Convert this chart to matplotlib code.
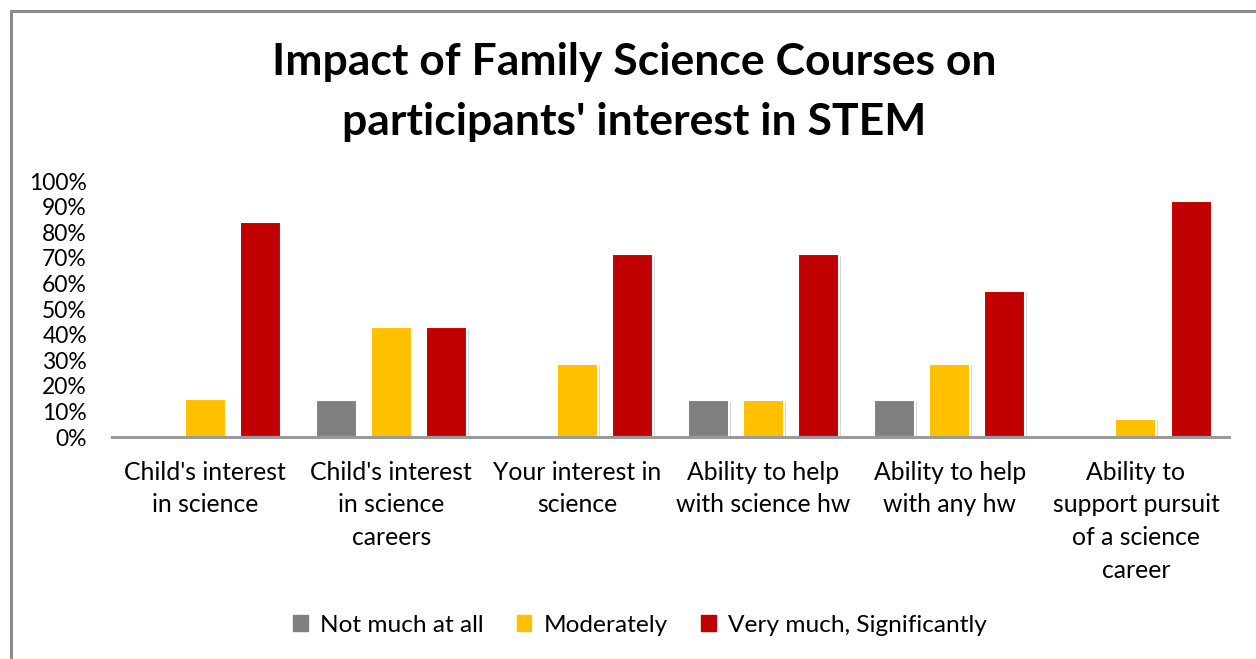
import matplotlib
matplotlib.use("Agg")
import matplotlib.pyplot as plt
import matplotlib.patheffects as pe
from matplotlib.lines import Line2D
import numpy as np

categories = ["Child's interest\nin science",
              "Child's interest\nin science\ncareers",
              "Your interest in\nscience",
              "Ability to help\nwith science hw",
              "Ability to help\nwith any hw",
              "Ability to\nsupport pursuit\nof a science\ncareer"]
series_names = ["Not much at all", "Moderately", "Very much, Significantly"]
not_much = [0.0, 14.3, 0.0, 14.3, 14.3, 0.0]
moderately = [15.0, 42.9, 28.6, 14.3, 28.6, 7.1]
very_much = [84.0, 42.9, 71.4, 71.4, 57.1, 92.0]
yticks = [0, 10, 20, 30, 40, 50, 60, 70, 80, 90, 100]
title_lines = ["Impact of Family Science Courses on", "participants' interest in STEM"]

colors = ["#808080", "#FFC000", "#C00000"]
FONT = "Lato"

fig = plt.figure(figsize=(12.56, 6.59), dpi=100)
fig.patch.set_facecolor("white")

# chart border (left and top visible)
fig.add_artist(Line2D([0.0087, 0.0087], [0, 1 - 10.5 / 659], transform=fig.transFigure,
                      color="#8c8c8c", lw=2.2))
fig.add_artist(Line2D([0.0087, 1.0], [1 - 10.5 / 659, 1 - 10.5 / 659], transform=fig.transFigure,
                      color="#8c8c8c", lw=2.2))

ax = fig.add_axes([112 / 1256, 1 - 437 / 659, (1229 - 112) / 1256, (437 - 181) / 659])
x = np.arange(len(categories))
w = 0.22
off = 0.296
shadow = [pe.SimplePatchShadow(offset=(1.2, -1.2), shadow_rgbFace="#bbbbbb", alpha=0.6), pe.Normal()]
for i, (vals, c) in enumerate(zip([not_much, moderately, very_much], colors)):
    bars = ax.bar(x + (i - 1) * off, vals, width=w, color=c, edgecolor="white",
                  linewidth=1.5, label=series_names[i], zorder=3)
    for b, v in zip(bars, vals):
        if v > 0:
            b.set_path_effects(shadow)
        else:
            b.set_visible(False)

ax.set_xlim(-0.5, len(categories) - 0.5)
ax.set_ylim(0, 100)
ax.set_yticks(yticks)
ax.set_yticklabels([f"{t}%" for t in yticks], fontsize=16.5, family=FONT, color="black")
ax.set_xticks(x)
ax.set_xticklabels(categories, fontsize=17.8, family=FONT, color="black", linespacing=1.52,
                   va="top")
ax.tick_params(axis="both", length=0)
ax.tick_params(axis="y", pad=18)
ax.tick_params(axis="x", pad=17)
for s in ["top", "right", "left"]:
    ax.spines[s].set_visible(False)
ax.spines["bottom"].set_color("#9a9a9a")
ax.spines["bottom"].set_linewidth(2.2)
ax.spines["bottom"].set_zorder(4)

fig.text(634 / 1256, 1 - 62 / 659, title_lines[0], ha="center", va="center", fontsize=32,
         fontweight="bold", family=FONT)
fig.text(634 / 1256, 1 - 122 / 659, title_lines[1], ha="center", va="center", fontsize=32,
         fontweight="bold", family=FONT)

handles = [plt.Rectangle((0, 0), 1, 1, color=c) for c in colors]
fig.legend(handles, series_names, loc="center", bbox_to_anchor=(640 / 1256, 1 - 625 / 659),
           ncol=3, frameon=False, prop={"family": FONT, "size": 17.6},
           handlelength=0.6, handleheight=0.6, handletextpad=0.5, columnspacing=1.35)

fig.savefig("out.png", dpi=100, facecolor="white")
